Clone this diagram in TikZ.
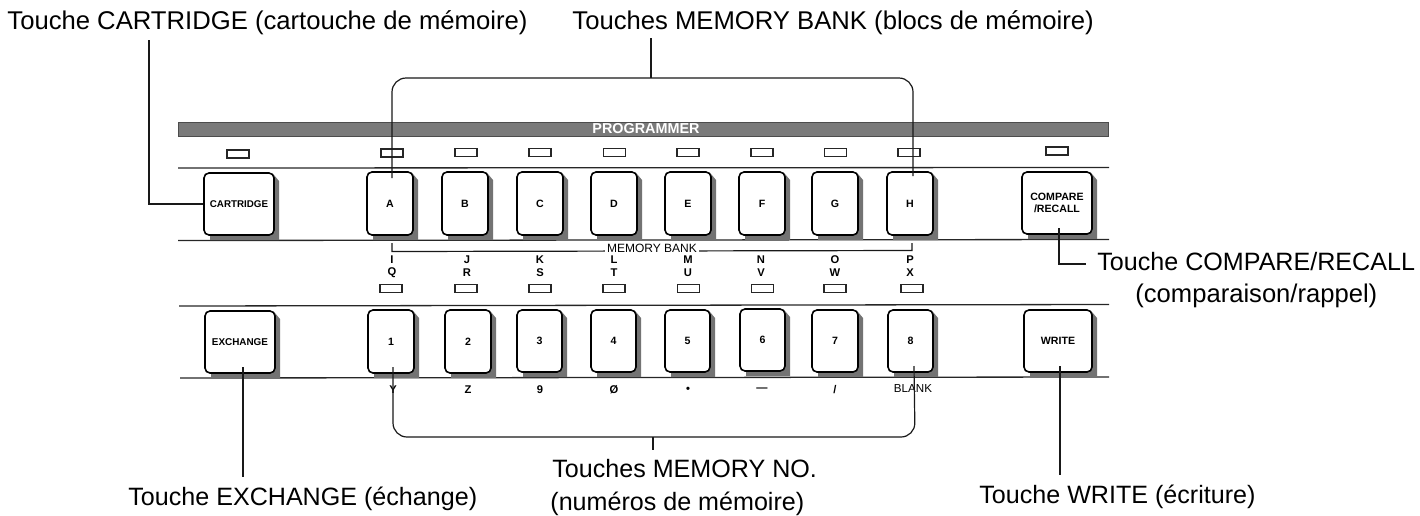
\documentclass[tikz,border=0pt]{standalone}
\usepackage{fontspec}
\setmainfont{Liberation Sans}
\tikzset{
  panelline/.style={line width=0.65pt,black!85},
  leader/.style={line width=0.6pt,black!90,rounded corners=7pt},
  ledbox/.style={draw=black!85,line width=0.55pt,fill=white,minimum width=11pt,minimum height=4pt,inner sep=0pt},
  keycap/.style={draw=black,line width=0.8pt,fill=white,rounded corners=2.5pt,inner sep=0pt,font=\fontsize{5.3}{5.8}\selectfont\bfseries,align=center},
  tiny/.style={inner sep=0pt,font=\fontsize{5.6}{6}\selectfont\bfseries},
  callout/.style={inner sep=0pt,anchor=base west,font=\fontsize{12.55}{14}\selectfont},
}
\newcommand{\keybtn}[6]{% name x0 y0 x1 y1 label
  \fill[black!55] (#2+6,#5-3) -- (#4,#3+2) -- (#4+5,#3+8) -- (#4+5,#5+5) -- (#2+6,#5+5) -- cycle;
  \node[keycap,minimum width={(#4-#2)*0.5pt},minimum height={(#5-#3)*0.5pt}] (#1) at ({(#2+#4)/2},{(#3+#5)/2}) {#6};
}
\begin{document}
\begin{tikzpicture}[x=0.5pt,y=-0.5pt]
\useasboundingbox (0,0) rectangle (1420,515);
% banner
\node[fill=black!52,draw=black!70,line width=0.5pt,minimum width=465pt,minimum height=7pt,inner sep=0pt] (banner) at (643.5,129) {};
\node[inner sep=0pt,text=white,font=\fontsize{7.2}{8}\selectfont\bfseries] (prog) at (646,128.5) {PROGRAMMER};
% panel lines
\coordinate (l1a) at (178,168); \coordinate (l1b) at (1109,167.5);
\coordinate (l2a) at (178,240.5); \coordinate (l2b) at (1109,239.5);
\coordinate (l3a) at (179,306); \coordinate (l3b) at (1109,304.5);
\coordinate (l4a) at (180,378); \coordinate (l4b) at (1109,377);
\draw[panelline] (l1a) -- (l1b);
\draw[panelline] (l2a) -- (l2b);
\draw[panelline] (l3a) -- (l3b);
\draw[panelline] (l4a) -- (l4b);
% top LEDs
\foreach \n/\x/\y in {lc/238/154,la/392/153,lb/466/152.5,lcc/540/152.5,ld/614.5/152.5,le/688/152.5,lf/762/152.5,lg/835.5/152.5,lh/909/152.5,lr/1057/151}
  \node[ledbox] (\n) at (\x,\y) {};
% keys row 1
\keybtn{cartridge}{204}{173}{274}{235}{\fontsize{4.9}{5.5}\selectfont CARTRIDGE}
\keybtn{keyA}{367}{172}{413}{235}{A}
\keybtn{keyB}{442}{172}{488}{235}{B}
\keybtn{keyC}{517}{172}{563}{235}{C}
\keybtn{keyD}{591}{172}{637}{235}{D}
\keybtn{keyE}{665}{172}{711}{235}{E}
\keybtn{keyF}{739}{172}{785}{235}{F}
\keybtn{keyG}{812}{172}{858}{235}{G}
\keybtn{keyH}{887}{172}{933}{235}{H}
\keybtn{compare}{1022}{172}{1092}{234}{COMPARE\\/RECALL}
% memory bank bracket
\coordinate (ba) at (392,243); \coordinate (bb) at (392,251.5); \coordinate (bc) at (912,250.5); \coordinate (bd) at (912,243);
\draw[line width=0.6pt,black!90] (ba) -- (bb) -- (bc) -- (bd);
\node[fill=white,inner xsep=1pt,inner ysep=0pt,font=\fontsize{6}{7}\selectfont] (mb) at (652,248) {MEMORY BANK};
% letters
\foreach \n/\x/\a/\b in {i/392/I/Q,j/467/J/R,k/540/K/S,m/614/L/T,n/688/M/U,o/761/N/V,p/835/O/W,q/910/P/X}{
  \node[tiny] (u\n) at (\x,259.5) {\a};
  \node[tiny] (v\n) at (\x,273) {\b};
}
% bottom LEDs
\foreach \n/\x in {p1/391,p2/466,p3/540,p4/614,p5/688.5,p6/762.5,p7/835,p8/912}
  \node[ledbox] (\n) at (\x,288.5) {};
% keys row 2
\keybtn{exchange}{205}{311}{275}{373}{\fontsize{4.95}{5.5}\selectfont EXCHANGE}
\keybtn{key1}{368}{310}{414}{373}{1}
\keybtn{key2}{445}{310}{491}{373}{2}
\keybtn{key3}{517}{310}{562}{372}{3}
\keybtn{key4}{591}{310}{636}{372}{4}
\keybtn{key5}{665}{310}{710}{372}{5}
\keybtn{key6}{740}{309}{785}{371}{6}
\keybtn{key7}{812}{310}{858}{372}{7}
\keybtn{key8}{888}{310}{933}{372}{8}
\keybtn{write}{1024}{310}{1092}{372}{WRITE}
% bottom symbols
\foreach \n/\x/\s in {y/393/Y,z/468/Z,a/540/9,b/614/Ø,c/688/•,d/762/—,e/835/\slash}
  \node[tiny] (s\n) at (\x,390) {\s};
\node[tiny,font=\fontsize{5.8}{6}\selectfont] (blank) at (913,389) {BLANK};
% callout texts
\node[callout,font=\fontsize{12.83}{14}\selectfont] (tcart) at (7,29) {Touche CARTRIDGE (cartouche de mémoire)};
\node[callout,font=\fontsize{12.83}{14}\selectfont] (tbank) at (572,29) {Touches MEMORY BANK (blocs de mémoire)};
\node[callout] (tcomp) at (1097,270) {Touche COMPARE/RECALL};
\node[callout,font=\fontsize{12.8}{14}\selectfont] (tcomp2) at (1135,302) {(comparaison/rappel)};
\node[callout] (texch) at (128,505) {Touche EXCHANGE (échange)};
\node[callout] (tno) at (552,477) {Touches MEMORY NO.};
\node[callout] (tno2) at (550,510) {(numéros de mémoire)};
\node[callout] (twrite) at (979,503) {Touche WRITE (écriture)};
% leaders
\coordinate (c1) at (149,40); \coordinate (c2) at (149,204);
\draw[leader,rounded corners=0pt] (c1) -- (c2) -- (cartridge.west);
\coordinate (t0) at (651,38); \coordinate (t1) at (651,78);
\coordinate (t2) at (392,78); \coordinate (t3) at (392,178); \coordinate (t4) at (913,78); \coordinate (t5) at (913,176);
\draw[leader] (t3) -- (t2) -- (t4) -- (t5);
\draw[leader] (t0) -- (t1);
\coordinate (e1) at (243,367); \coordinate (e2) at (243,477);
\draw[leader] (e1) -- (e2);
\coordinate (w1) at (1060,366); \coordinate (w2) at (1060,475);
\draw[leader] (w1) -- (w2);
\coordinate (n1) at (393,367); \coordinate (n2) at (393,437); \coordinate (n3) at (915,437); \coordinate (n4) at (914,366);
\draw[leader] (n1) -- (n2) -- (n3) -- (n4);
\coordinate (n5) at (653,437); \coordinate (n6) at (653,450);
\draw[leader] (n5) -- (n6);
\coordinate (r1) at (1059,228); \coordinate (r2) at (1059,264); \coordinate (r3) at (1086,264);
\draw[leader,rounded corners=0pt] (r1) -- (r2) -- (r3);
\end{tikzpicture}
\end{document}
